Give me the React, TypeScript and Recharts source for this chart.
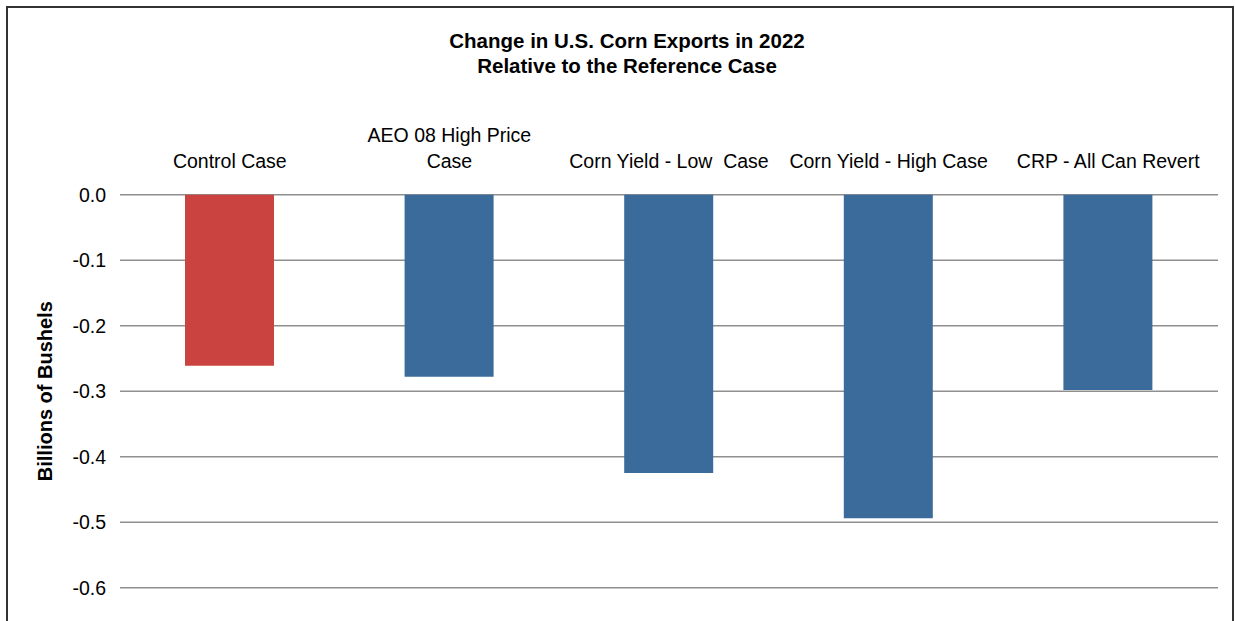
import React from 'react';
import { BarChart, Bar, XAxis, YAxis, CartesianGrid, Cell } from 'recharts';

const categories = [
  'Control Case',
  'AEO 08 High Price\nCase',
  'Corn Yield - Low  Case',
  'Corn Yield - High Case',
  'CRP - All Can Revert',
];
const exportChange = [-0.261, -0.278, -0.425, -0.494, -0.298];
const barColors = ['#CB4340', '#3B6B9B', '#3B6B9B', '#3B6B9B', '#3B6B9B'];
const yTicks = [0, -0.1, -0.2, -0.3, -0.4, -0.5, -0.6];
const edgeTicks = [0, 1, 2, 3, 4, 5];
const titleLines = ['Change in U.S. Corn Exports in 2022', 'Relative to the Reference Case'];
const yLabel = 'Billions of Bushels';

const data = categories.map((c, i) => ({ category: c, value: exportChange[i] }));

const FONT = '"Liberation Sans", Arial, sans-serif';

const CategoryTick = (props: any) => {
  const { x, y, payload } = props;
  const lines = String(payload.value).split('\n');
  const n = lines.length;
  return (
    <g>
      {lines.map((ln, i) => (
        <text
          key={i}
          x={x}
          y={y - 26.3 - (n - 1 - i) * 26.7}
          textAnchor="middle"
          fontFamily={FONT}
          fontSize={19.5}
          fill="#000"
          style={{ whiteSpace: 'pre' }}
        >
          {ln}
        </text>
      ))}
    </g>
  );
};

const YLabel = (props: any) => {
  const vb = props.viewBox || {};
  const cx = vb.x + 25;
  const cy = vb.y + vb.height / 2;
  return (
    <text
      x={cx}
      y={cy}
      transform={`rotate(-90 ${cx} ${cy})`}
      textAnchor="middle"
      dominantBaseline="central"
      fontFamily={FONT}
      fontWeight="bold"
      fontSize={20}
      fill="#000"
    >
      {yLabel}
    </text>
  );
};

export default function App() {
  return (
    <div style={{ position: 'absolute', left: 0, top: 0, width: 1235, height: 621, overflow: 'hidden', background: '#fff' }}>
      <svg width={1235} height={621} style={{ position: 'absolute', left: 0, top: 0 }}>
        <rect x={7} y={7} width={1226} height={700} fill="none" stroke="#333" strokeWidth={2} />
        {titleLines.map((t, i) => (
          <text
            key={i}
            x={627}
            y={48 + i * 25}
            textAnchor="middle"
            fontFamily={FONT}
            fontWeight="bold"
            fontSize={20.5}
            fill="#000"
          >
            {t}
          </text>
        ))}
      </svg>
      <div style={{ position: 'absolute', left: 0, top: 0 }}>
        <BarChart
          width={1235}
          height={621}
          data={data}
          margin={{ top: 114.7, right: 17, bottom: 33.3, left: 20 }}
          barSize={89}
        >
          <CartesianGrid xAxisId="cat" vertical={false} stroke="#8f8f8f" strokeWidth={1.5} />
          <XAxis
            xAxisId="edge"
            type="number"
            domain={[0, 5]}
            ticks={edgeTicks}
            allowDataOverflow
            orientation="top"
            mirror
            tick={false}
            tickSize={5}
            axisLine={{ stroke: '#000', strokeWidth: 1.5 }}
            tickLine={{ stroke: '#000', strokeWidth: 1 }}
            height={0}
          />
          <XAxis
            xAxisId="cat"
            dataKey="category"
            orientation="top"
            height={80}
            axisLine={false}
            tickLine={false}
            tickSize={0}
            tickMargin={0}
            interval={0}
            tick={<CategoryTick />}
          />
          <YAxis
            domain={[-0.6, 0]}
            ticks={yTicks}
            width={100}
            axisLine={false}
            tickLine={false}
            tickSize={0}
            tickMargin={14}
            tickFormatter={(v: number) => v.toFixed(1)}
            tick={{ fontFamily: FONT, fontSize: 19.5, fill: '#000' }}
            label={<YLabel />}
          />
          <Bar xAxisId="cat" dataKey="value" isAnimationActive={false}>
            {data.map((d, i) => (
              <Cell key={i} fill={barColors[i]} />
            ))}
          </Bar>
        </BarChart>
      </div>
    </div>
  );
}
